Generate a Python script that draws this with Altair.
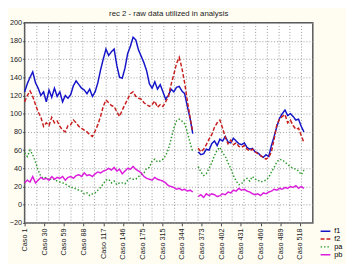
import altair as alt
import pandas as pd

# case index (row in the sheet) for each sample
cases = list(range(0, 416, 4))

f1 = [124, 133, 140, 146, 134, 128, 120, 124, 113, 126, 118, 128, 119, 124, 113, 120, 117, 121,
      131, 136, 132, 128, 126, 122, 127, 119, 124, 134, 148, 160, 171, 164, 168, 171, 153, 140,
      139, 150, 166, 174, 184, 181, 170, 163, 156, 147, 133, 128, 135, 127, 132, 124, 116, 120,
      127, 124, 129, 130, 125, 122, 108, 95, 78, None, 58, 55, 56, 61, 60, 67, 70, 65,
      72, 70, 75, 69, 68, 73, 70, 67, 66, 68, 63, 61, 62, 58, 57, 54, 52, 55, 53, 65,
      75, 86, 95, 100, 104, 98, 100, 97, 93, 94, 86, 80]

f2 = [113, 120, 125, 119, 110, 102, 96, 86, 90, 87, 96, 90, 92, 86, 82, 80, 87, 88,
      93, 90, 86, 84, 82, 80, 77, 75, 81, 88, 97, 108, 115, 112, 109, 108, 102, 97,
      104, 110, 116, 122, 124, 119, 117, 116, 112, 110, 108, 110, 114, 107, 110, 108, 113, 119,
      132, 143, 155, 162, 150, 134, 114, 96, 80, None, 62, 58, 61, 66, 72, 77, 85, 90,
      93, 84, 74, 67, 71, 66, 68, 64, 63, 65, 61, 59, 61, 58, 56, 54, 52, 50, 52, 58,
      72, 88, 94, 97, 99, 90, 93, 87, 83, 84, 76, 68]

pa = [57, 53, 60, 55, 47, 38, 31, 29, 30, 27, 29, 28, 26, 25, 24, 23, 21, 19,
      19, 17, 16, 15, 12, 13, 10, 12, 13, 16, 19, 23, 27, 28, 24, 26, 22, 24,
      24, 23, 27, 29, 28, 28, 31, 33, 35, 40, 41, 48, 50, 47, 48, 50, 54, 61,
      72, 84, 92, 94, 92, 89, 80, 68, 58, None, 42, 36, 32, 34, 40, 46, 54, 60,
      63, 57, 53, 46, 40, 32, 26, 22, 23, 27, 29, 26, 31, 28, 27, 25, 26, 27, 30, 36,
      41, 47, 50, 49, 47, 44, 42, 40, 39, 37, 33, 38]

pb = [24, 27, 25, 31, 24, 27, 30, 28, 29, 27, 31, 28, 30, 29, 31, 27, 30, 31,
      29, 32, 33, 31, 35, 32, 33, 31, 34, 36, 35, 37, 38, 40, 38, 41, 37, 39,
      34, 37, 40, 39, 42, 39, 37, 35, 31, 29, 28, 27, 30, 28, 27, 26, 24, 21,
      20, 19, 17, 18, 16, 17, 15, 16, 14, None, 9, 11, 8, 12, 10, 12, 11, 9,
      10, 12, 11, 14, 13, 16, 15, 18, 16, 17, 15, 14, 12, 11, 12, 10, 13, 12, 14, 15,
      17, 16, 18, 17, 19, 18, 20, 19, 21, 18, 20, 18]

series_names = ["f1", "f2", "pa", "pb"]
series_colors = ["#1414C8", "#C81E1E", "#2E9A2E", "#DC1EDC"]
series_dash = [[1, 0], [4, 2], [1.5, 2], [1, 0]]

tick_rows = [0, 29, 58, 87, 116, 145, 174, 203, 232, 261, 290, 319, 348, 377, 406]
tick_labels = ["Caso 1", "Caso 30", "Caso 59", "Caso 88", "Caso 117", "Caso 146",
               "Caso 175", "Caso 315", "Caso 344", "Caso 373", "Caso 402", "Caso 431",
               "Caso 460", "Caso 489", "Caso 518"]
y_ticks = [-20, 0, 20, 40, 60, 80, 100, 120, 140, 160, 180, 200]
grid_rows = list(range(0, 426, 17))

records = []
for name, vals in zip(series_names, [f1, f2, pa, pb]):
    seg = 0
    for r, v in zip(cases, vals):
        if v is None:
            seg += 1
            continue
        records.append({"row": r, "value": v, "series": name, "seg": seg})
df = pd.DataFrame(records)

label_expr = "[" + ",".join("'%s'" % l for l in tick_labels) + "][round(datum.value/29)]"

xscale = alt.Scale(domain=[0, 425], nice=False, zero=False)
yscale = alt.Scale(domain=[-20, 200], nice=False)
FONT = "Liberation Sans"

legend = alt.Legend(title=None, orient="none", legendX=302, legendY=210,
                    symbolType="stroke", symbolSize=100, symbolStrokeWidth=1.5,
                    labelFontSize=7.5, labelFont=FONT, clipHeight=7, rowPadding=0,
                    padding=0, labelOffset=3)

yaxis = alt.Axis(values=y_ticks, grid=True, gridDash=[1, 2],
                 gridColor="#9a9a9a", labelFontSize=7.5, labelFont=FONT,
                 labelColor="#222", domain=False, tickSize=2, tickColor="#444",
                 labelPadding=1, title=None, labelOverlap=False)

lines = alt.Chart(df).mark_line(strokeWidth=1.5).encode(
    x=alt.X("row:Q", scale=xscale,
            axis=alt.Axis(values=tick_rows, labelExpr=label_expr, labelAngle=-90,
                          labelFontSize=7.5, labelFont=FONT, labelColor="#222",
                          grid=False, domain=False, tickSize=3, tickColor="#444",
                          labelPadding=2, title=None, labelOverlap=False)),
    y=alt.Y("value:Q", scale=yscale, axis=yaxis),
    color=alt.Color("series:N", scale=alt.Scale(domain=series_names, range=series_colors),
                    legend=legend),
    strokeDash=alt.StrokeDash("series:N",
                              scale=alt.Scale(domain=series_names, range=series_dash),
                              legend=legend),
    detail="seg:N",
)

gridlayer = alt.Chart(df).mark_point(opacity=0).encode(
    x=alt.X("row:Q", scale=xscale,
            axis=alt.Axis(values=grid_rows, grid=True, gridDash=[1, 2], gridColor="#9a9a9a",
                          labels=False, ticks=False, domain=False, title=None, orient="top")),
    y=alt.Y("value:Q", scale=yscale, axis=yaxis),
)

chart = alt.layer(gridlayer, lines).resolve_axis(x="independent").properties(
    width=295,
    height=205,
    title=alt.TitleParams("rec 2 - raw data utilized in analysis", fontSize=8,
                          fontWeight="normal", font=FONT, offset=1, anchor="middle",
                          color="#222"),
    autosize=alt.AutoSizeParams(type="none"),
    padding={"left": 17, "top": 12, "right": 34, "bottom": 39},
).configure(background="#FFFDF2").configure_view(stroke="#555", strokeWidth=1.5, fill="white")

chart.save("out.html", embed_options={"renderer": "svg", "actions": False})
